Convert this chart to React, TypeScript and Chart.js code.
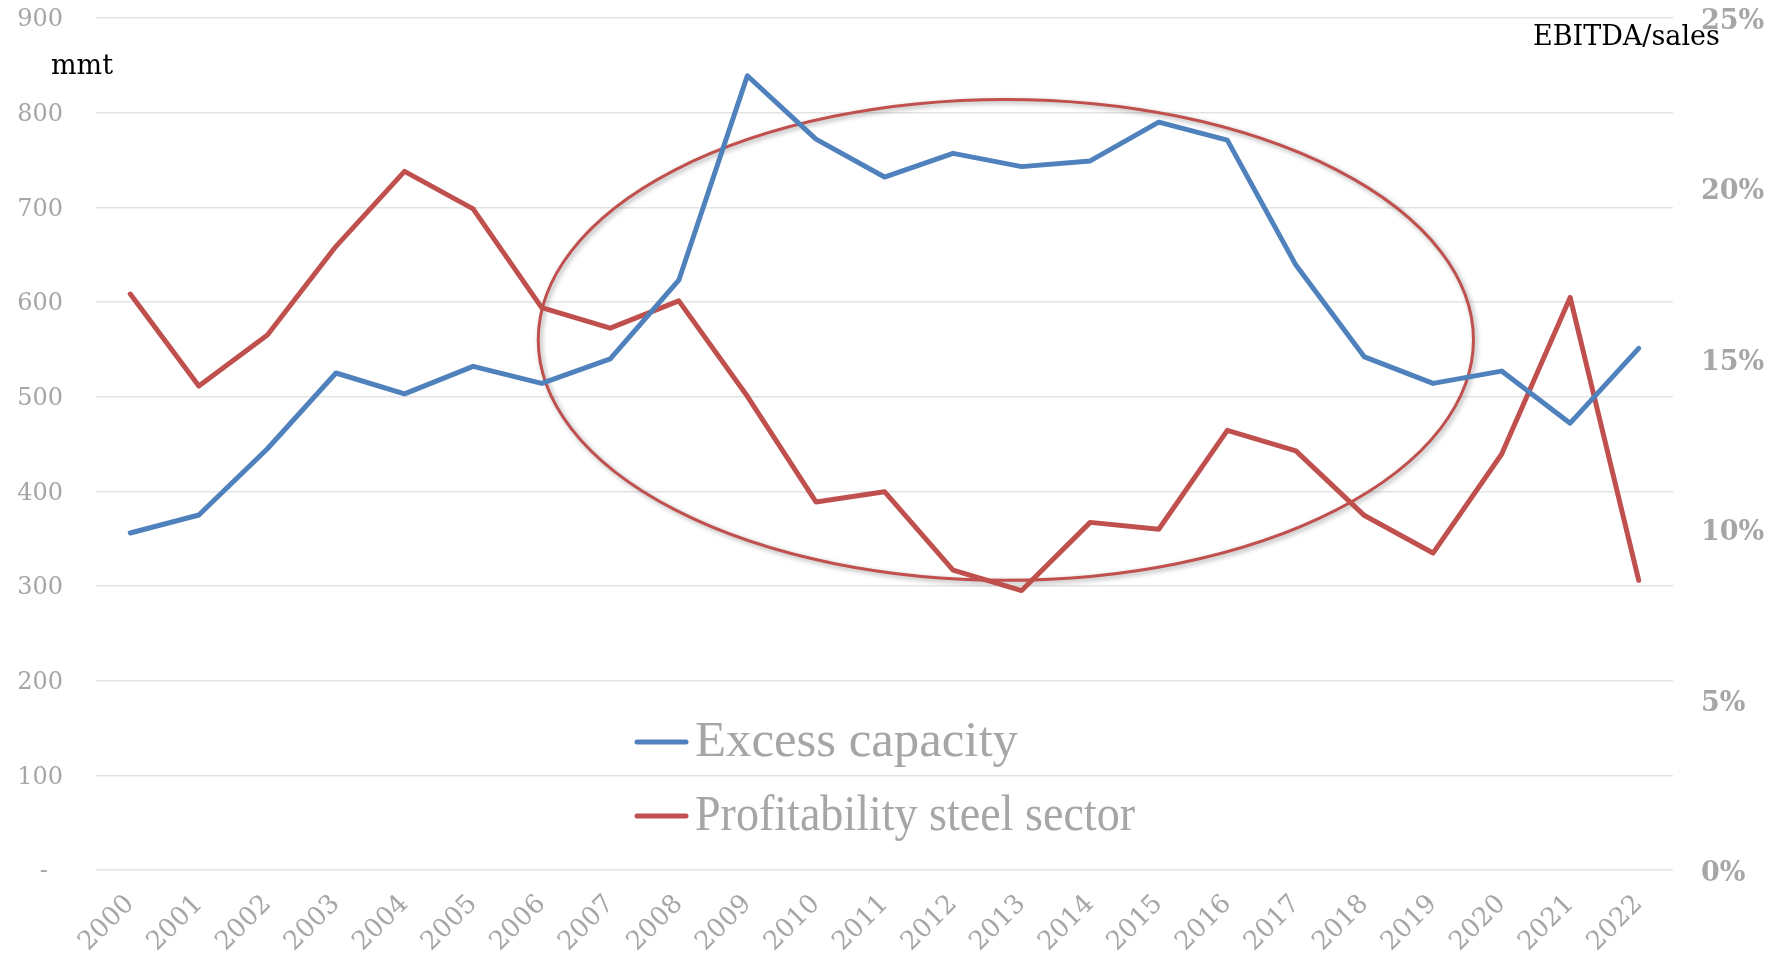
import React, { useEffect, useRef } from "react";
import { Chart, registerables } from "chart.js";

Chart.register(...registerables);

const years = ["2000","2001","2002","2003","2004","2005","2006","2007","2008","2009","2010","2011","2012","2013","2014","2015","2016","2017","2018","2019","2020","2021","2022"];
const excessCapacity = [356,375,445,525,503,532,514,540,623,839,772,732,757,743,749,790,771,639,542,514,527,472,551];
const profitability = [16.9,14.2,15.7,18.3,20.5,19.4,16.5,15.9,16.7,13.9,10.8,11.1,8.8,8.2,10.2,10.0,12.9,12.3,10.4,9.3,12.2,16.8,8.5];
const seriesLabels = ["Excess capacity", "Profitability steel sector"];
const leftAxisTitle = "mmt";
const rightAxisTitle = "EBITDA/sales";
// ellipse highlight in data units: [centerIndex, centerValue(left axis), radiusIndex, radiusValue]
const highlight = [12.77, 560, 6.82, 254];

const BLUE = "#4F81BD";
const RED = "#C0504D";
const GRAY = "#A6A6A6";
const FONT = "'DejaVu Serif', serif";
const LEGEND_FONT = "'Liberation Serif', serif";
const LEGEND_MAX_W = [323, 440];

const overlayPlugin = {
  id: "overlay",
  beforeDatasetsDraw(chart: any) {
    const { ctx, scales } = chart;
    const x = scales.x;
    const y = scales.y;
    const cx = x.getPixelForValue(highlight[0]);
    const cy = y.getPixelForValue(highlight[1]);
    const rx = Math.abs(x.getPixelForValue(highlight[0] + highlight[2]) - cx);
    const ry = Math.abs(y.getPixelForValue(highlight[1] + highlight[3]) - cy);
    ctx.save();
    ctx.beginPath();
    ctx.ellipse(cx, cy, rx, ry, 0, 0, Math.PI * 2);
    ctx.shadowColor = "rgba(0,0,0,0.35)";
    ctx.shadowBlur = 5;
    ctx.shadowOffsetX = 2;
    ctx.shadowOffsetY = 2;
    ctx.strokeStyle = RED;
    ctx.lineWidth = 3;
    ctx.stroke();
    ctx.restore();
  },
  afterDraw(chart: any) {
    const { ctx } = chart;
    ctx.save();
    ctx.fillStyle = "#000";
    ctx.font = `27px ${FONT}`;
    ctx.textBaseline = "middle";
    ctx.textAlign = "left";
    ctx.fillText(leftAxisTitle, 51, 67);
    ctx.fillText(rightAxisTitle, 1533, 38);
    // legend
    const rows = [742, 816];
    chart.data.datasets.forEach((ds: any, i: number) => {
      const yy = rows[i];
      ctx.beginPath();
      ctx.strokeStyle = ds.borderColor;
      ctx.lineWidth = 5;
      ctx.lineCap = "round";
      ctx.moveTo(637, yy);
      ctx.lineTo(686, yy);
      ctx.stroke();
      ctx.fillStyle = GRAY;
      ctx.font = `51px ${LEGEND_FONT}`;
      ctx.textBaseline = "middle";
      ctx.fillText(ds.label, 695, yy + 1, LEGEND_MAX_W[i]);
    });
    ctx.restore();
  },
};

function zeroPad(scale: any) {
  scale.paddingTop = 0;
  scale.paddingBottom = 0;
}

export default function App() {
  const ref = useRef<HTMLCanvasElement | null>(null);
  useEffect(() => {
    if (!ref.current) return;
    const chart = new Chart(ref.current, {
      type: "line",
      data: {
        labels: years,
        datasets: [
          {
            label: seriesLabels[0],
            data: excessCapacity,
            borderColor: BLUE,
            backgroundColor: BLUE,
            borderWidth: 5,
            pointRadius: 0,
            tension: 0,
            yAxisID: "y",
            borderCapStyle: "round",
            borderJoinStyle: "round",
          },
          {
            label: seriesLabels[1],
            data: profitability,
            borderColor: RED,
            backgroundColor: RED,
            borderWidth: 5,
            pointRadius: 0,
            tension: 0,
            yAxisID: "y1",
            borderCapStyle: "round",
            borderJoinStyle: "round",
          },
        ],
      },
      options: {
        responsive: false,
        animation: false,
        layout: { padding: { top: 18, left: 0, right: 0, bottom: 0 } },
        plugins: { legend: { display: false }, tooltip: { enabled: false } },
        scales: {
          x: {
            offset: true,
            grid: { display: false, drawTicks: false },
            border: { display: false },
            ticks: {
              color: GRAY,
              font: { family: FONT, size: 26 },
              minRotation: 45,
              maxRotation: 45,
              padding: 19,
              autoSkip: false,
            },
            afterFit(scale: any) {
              scale.height = 87;
              scale.paddingLeft = 0;
              scale.paddingRight = 0;
            },
          },
          y: {
            position: "left",
            min: 0,
            max: 900,
            grid: { color: "#E3E3E3", lineWidth: 1.5, drawTicks: false },
            border: { display: false },
            ticks: {
              stepSize: 100,
              color: GRAY,
              font: { family: FONT, size: 24 },
              padding: 33,
              labelOffset: 2,
              callback: (v: any) => (v === 0 ? "-  " : String(v)),
            },
            afterFit(scale: any) {
              scale.width = 96;
              zeroPad(scale);
            },
          },
          y1: {
            position: "right",
            min: 0,
            max: 25,
            grid: { display: false, drawTicks: false },
            border: { display: false },
            ticks: {
              stepSize: 5,
              color: GRAY,
              font: { family: FONT, size: 27, weight: "bold" },
              padding: 28,
              labelOffset: 4,
              callback: (v: any) => `${v}%`,
            },
            afterFit(scale: any) {
              scale.width = 105;
              zeroPad(scale);
            },
          },
        },
      },
      plugins: [overlayPlugin],
    } as any);
    return () => chart.destroy();
  }, []);
  return (
    <canvas
      ref={ref}
      width={1778}
      height={957}
      style={{ position: "fixed", left: 0, top: 0, width: 1778, height: 957, background: "#fff" }}
    />
  );
}
